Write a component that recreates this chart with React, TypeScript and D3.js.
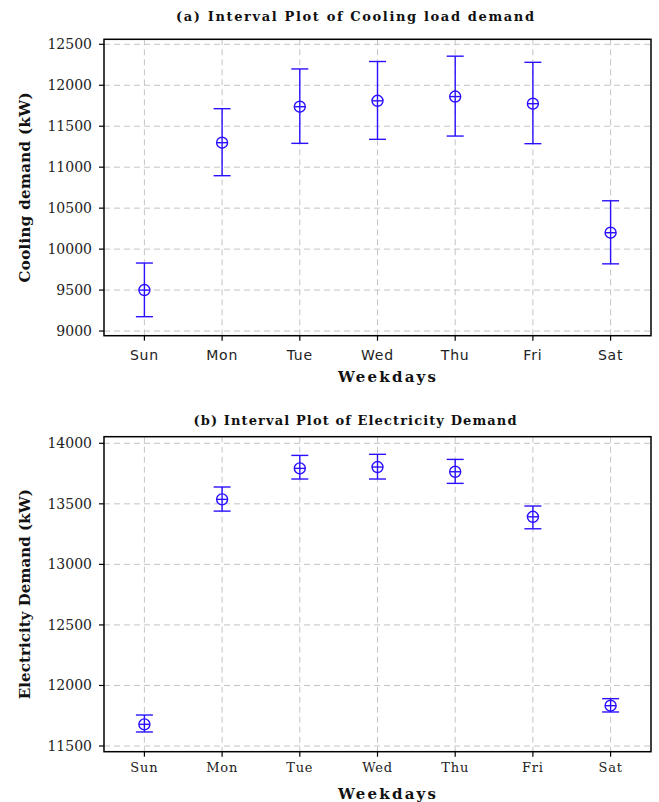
import React from "react";
import * as d3 from "d3";

const days = ["Sun", "Mon", "Tue", "Wed", "Thu", "Fri", "Sat"];

const coolMean = [9500, 11299, 11738, 11810, 11862, 11775, 10200];
const coolUpper = [9830, 11714, 12199, 12290, 12355, 12280, 10590];
const coolLower = [9175, 10896, 11291, 11340, 11380, 11287, 9820];
const coolTicks = [9000, 9500, 10000, 10500, 11000, 11500, 12000, 12500];

const elecMean = [11679, 13537, 13793, 13804, 13765, 13393, 11833];
const elecUpper = [11756, 13639, 13900, 13909, 13867, 13482, 11891];
const elecLower = [11616, 13440, 13705, 13705, 13669, 13294, 11781];
const elecTicks = [11500, 12000, 12500, 13000, 13500, 14000];

const BLUE = "#2a10ff";
const GRID = "#c4c4c4";
const SERIF = "'DejaVu Serif', 'Liberation Serif', serif";
const SERIF_B = "'DejaVu Serif', 'Liberation Serif', serif";
const SANS = "'DejaVu Sans', sans-serif";

type PanelProps = {
  title: string;
  titleY: number;
  titleLen: number;
  yLabel: string;
  yLabelLen: number;
  top: number;
  bottom: number;
  domain: [number, number];
  ticks: number[];
  mean: number[];
  upper: number[];
  lower: number[];
  xTickFont: string;
  xTickSize: number;
  xTickY: number;
  xTitleY: number;
};

function Panel(p: PanelProps) {
  const left = 104;
  const right = 651;
  const x = d3.scalePoint<string>().domain(days).range([left, right]).padding(0.52);
  const y = d3.scaleLinear().domain(p.domain).range([p.bottom, p.top]);
  const cap = 8.5;
  const r = 5.5;
  return (
    <g>
      <text
        x={355}
        y={p.titleY}
        textAnchor="middle"
        fontFamily={SERIF_B}
        fontWeight="bold"
        fontSize={13}
        textLength={p.titleLen}
        lengthAdjust="spacing"
        fill="#111"
      >
        {p.title}
      </text>
      {p.ticks.map((t) => (
        <line key={"gy" + t} x1={left} x2={right} y1={y(t)} y2={y(t)} stroke={GRID} strokeWidth={1} strokeDasharray="6,4" />
      ))}
      {days.map((d) => (
        <line key={"gx" + d} x1={x(d)} x2={x(d)} y1={p.top} y2={p.bottom} stroke={GRID} strokeWidth={1} strokeDasharray="6,4" />
      ))}
      <rect x={left} y={p.top} width={right - left} height={p.bottom - p.top} fill="none" stroke="#000" strokeWidth={1.5} />
      {p.ticks.map((t) => (
        <g key={"yt" + t}>
          <line x1={left - 5} x2={left} y1={y(t)} y2={y(t)} stroke="#000" strokeWidth={1.2} />
          <text x={92} y={y(t) + 5} textAnchor="end" fontFamily={SERIF} fontSize={14} fill="#222">
            {t}
          </text>
        </g>
      ))}
      {days.map((d) => (
        <g key={"xt" + d}>
          <line x1={x(d)} x2={x(d)} y1={p.bottom} y2={p.bottom + 5} stroke="#000" strokeWidth={1.2} />
          <text x={x(d)} y={p.xTickY} textAnchor="middle" fontFamily={p.xTickFont} fontSize={p.xTickSize} letterSpacing={0.8} fill="#222">
            {d}
          </text>
        </g>
      ))}
      <text
        x={387}
        y={p.xTitleY}
        textAnchor="middle"
        fontFamily={SERIF_B}
        fontWeight="bold"
        fontSize={15}
        textLength={98}
        lengthAdjust="spacing"
        fill="#111"
      >
        Weekdays
      </text>
      <text
        transform={`translate(30, ${(p.top + p.bottom) / 2}) rotate(-90)`}
        textAnchor="middle"
        fontFamily={SERIF_B}
        fontWeight="bold"
        fontSize={15}
        textLength={p.yLabelLen}
        lengthAdjust="spacing"
        fill="#111"
      >
        {p.yLabel}
      </text>
      {days.map((d, i) => {
        const cx = x(d) as number;
        const cy = y(p.mean[i]);
        return (
          <g key={"iv" + d} stroke={BLUE} strokeWidth={1.4} fill="none">
            <line x1={cx} x2={cx} y1={y(p.upper[i])} y2={y(p.lower[i])} />
            <line x1={cx - cap} x2={cx + cap} y1={y(p.upper[i])} y2={y(p.upper[i])} />
            <line x1={cx - cap} x2={cx + cap} y1={y(p.lower[i])} y2={y(p.lower[i])} />
            <circle cx={cx} cy={cy} r={r} fill="#fff" />
            <line x1={cx - r} x2={cx + r} y1={cy} y2={cy} />
            <line x1={cx} x2={cx} y1={cy - r} y2={cy + r} />
          </g>
        );
      })}
    </g>
  );
}

export default function App() {
  return (
    <svg width={659} height={802} style={{ position: "absolute", left: 0, top: 0, background: "#fff" }}>
      <rect x={0} y={0} width={659} height={802} fill="#fff" />
      <Panel
        title="(a) Interval Plot of Cooling load demand"
        titleY={21}
        titleLen={358}
        yLabel="Cooling demand (kW)"
        yLabelLen={190}
        top={39.3}
        bottom={335.7}
        domain={[8943, 12561]}
        ticks={coolTicks}
        mean={coolMean}
        upper={coolUpper}
        lower={coolLower}
        xTickFont={SANS}
        xTickSize={14}
        xTickY={360}
        xTitleY={382}
      />
      <Panel
        title="(b) Interval Plot of Electricity Demand"
        titleY={425}
        titleLen={323}
        yLabel="Electricity Demand (kW)"
        yLabelLen={210}
        top={436.7}
        bottom={751.7}
        domain={[11453, 14054.5]}
        ticks={elecTicks}
        mean={elecMean}
        upper={elecUpper}
        lower={elecLower}
        xTickFont={SERIF}
        xTickSize={13}
        xTickY={772}
        xTitleY={799}
      />
    </svg>
  );
}
